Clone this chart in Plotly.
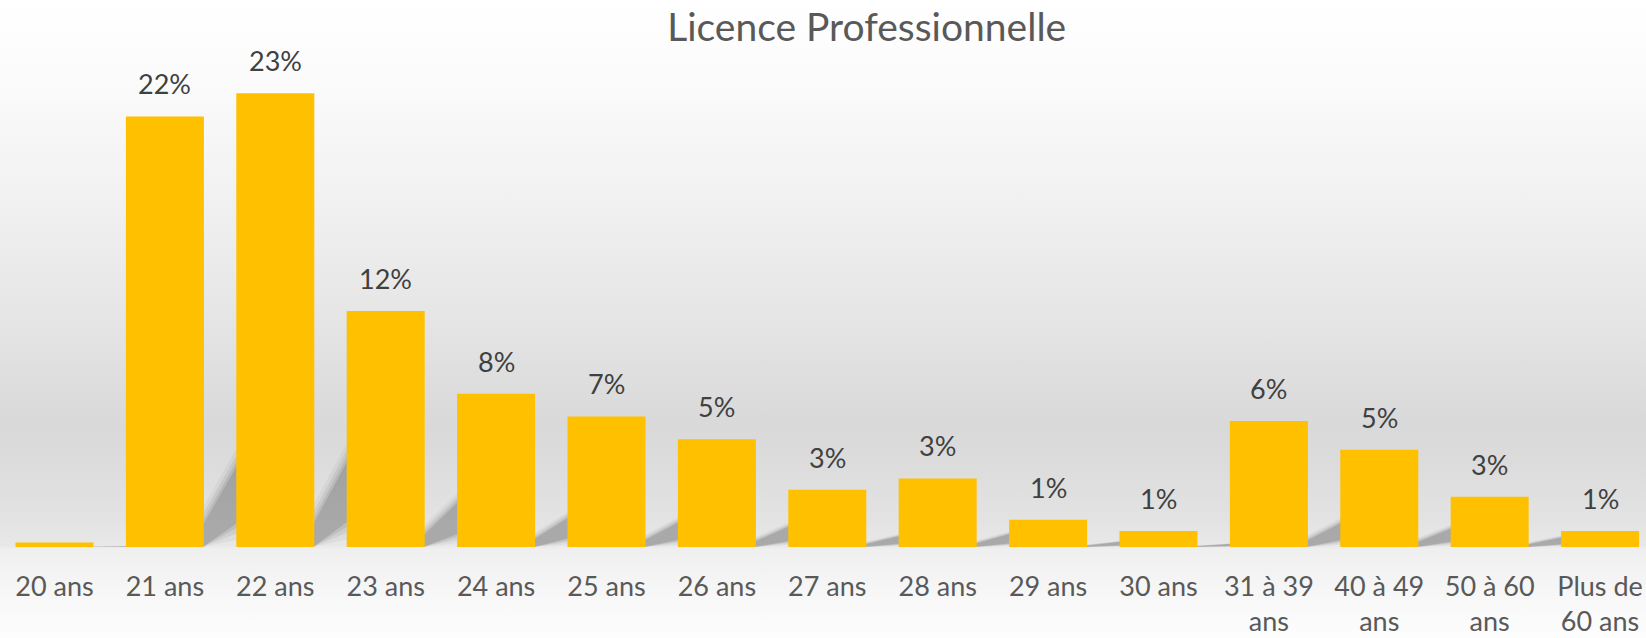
import base64
import plotly.graph_objects as go

# ---- data ----
categories = ["20 ans", "21 ans", "22 ans", "23 ans", "24 ans", "25 ans", "26 ans",
              "27 ans", "28 ans", "29 ans", "30 ans", "31 à 39<br>ans", "40 à 49<br>ans",
              "50 à 60<br>ans", "Plus de<br>60 ans"]
values = [0.23, 21.80, 22.97, 11.95, 7.76, 6.61, 5.45, 2.90, 3.47, 1.38, 0.81,
          6.38, 4.93, 2.55, 0.81]
title_text = "Licence Professionnelle"

# ---- styling ----
BAR_COLOR = "#FFC000"
FONT = "Lato, 'Open Sans', sans-serif"
W, H = 1646, 638
T, B = 57, 91
PX_PER_UNIT = 19.75
BAR_W = 0.7065
X_RANGE = [-0.4937, 14.416]

idx = list(range(len(categories)))
labels = [f"{round(v)}%" if v >= 0.5 else "" for v in values]

fig = go.Figure()
fig.add_trace(go.Bar(
    x=idx, y=values, width=BAR_W,
    marker=dict(color=BAR_COLOR, line=dict(width=0)),
    hoverinfo="skip",
))

# data labels
annotations = []
for i, v, lab in zip(idx, values, labels):
    if lab:
        annotations.append(dict(
            x=i, y=v, xref="x", yref="y", text=lab, showarrow=False,
            yanchor="bottom", yshift=14,
            font=dict(family=FONT, size=27, color="#404040"),
        ))

# soft diagonal shadows in the gaps (derived from each bar's value)
shapes = []
for i, v in zip(idx[:-1], values[:-1]):
    h = v * PX_PER_UNIT  # bar height in px
    x1 = i + BAR_W / 2 - 0.01
    xn = i + 1 - BAR_W / 2 + 0.03
    yu0, yu1 = 0.05 * h, 0.20 * h
    yl0, yl1 = -0.06 * h, 0.06 * h
    for ef, op in [(0.0, 0.11), (0.012, 0.08), (0.026, 0.06), (0.042, 0.04)]:
        e = ef * h
        pts = [(x1, max(0, yl0 - e)), (x1, max(0, yu0 + e)),
               (xn, yu1 + e), (xn, max(0, yl1 - e))]
        path = "M " + " L ".join(f"{px},{py / PX_PER_UNIT}" for px, py in pts) + " Z"
        shapes.append(dict(type="path", path=path, xref="x", yref="y",
                           fillcolor="black", opacity=op, line=dict(width=0),
                           layer="below"))

# background gradient as an SVG image
base_y = H - B
stops = [(0, "#ffffff"), (80, "#fbfbfb"), (200, "#f1f1f1"), (300, "#e7e7e7"),
         (380, "#dedede"), (425, "#d9d9d9"), (465, "#dcdcdc"), (520, "#e3e3e3"),
         (base_y - 1, "#e8e8e8"), (base_y + 2, "#efefef"), (600, "#f8f8f8"),
         (H, "#fdfdfd")]
stop_xml = "".join(f'<stop offset="{y / H:.4f}" stop-color="{c}"/>' for y, c in stops)
svg = (f'<svg xmlns="http://www.w3.org/2000/svg" width="{W}" height="{H}" '
       f'viewBox="0 0 {W} {H}" preserveAspectRatio="none">'
       f'<defs><linearGradient id="g" x1="0" y1="0" x2="0" y2="1">{stop_xml}'
       f'</linearGradient></defs><rect width="{W}" height="{H}" fill="url(#g)"/></svg>')
src = "data:image/svg+xml;base64," + base64.b64encode(svg.encode()).decode()
plot_h = H - T - B
fig.add_layout_image(dict(
    source=src, xref="paper", yref="paper", x=0, y=base_y / plot_h,
    sizex=1, sizey=H / plot_h, xanchor="left", yanchor="top",
    sizing="stretch", layer="below",
))

fig.update_layout(
    width=W, height=H,
    margin=dict(l=0, r=0, t=T, b=B, autoexpand=False),
    paper_bgcolor="white", plot_bgcolor="rgba(0,0,0,0)",
    showlegend=False,
    title=dict(text=title_text, x=866.7 / W, xref="container", xanchor="center",
               y=1 - 27 / H, yanchor="middle",
               font=dict(family=FONT, size=39, color="#595959")),
    annotations=annotations,
    shapes=shapes,
    xaxis=dict(range=X_RANGE, tickvals=idx, ticktext=categories,
               showgrid=False, zeroline=False, showline=False, ticks="",
               automargin=False, ticklabelstandoff=21,
               tickfont=dict(family=FONT, size=27, color="#595959")),
    yaxis=dict(range=[0, plot_h / PX_PER_UNIT], visible=False, showgrid=False,
               zeroline=False, automargin=False),
)

fig.write_html("out.html", config={"displayModeBar": False},
               post_script="document.body.style.margin='0';document.body.style.padding='0';"
                           "document.body.style.overflow='hidden';")
